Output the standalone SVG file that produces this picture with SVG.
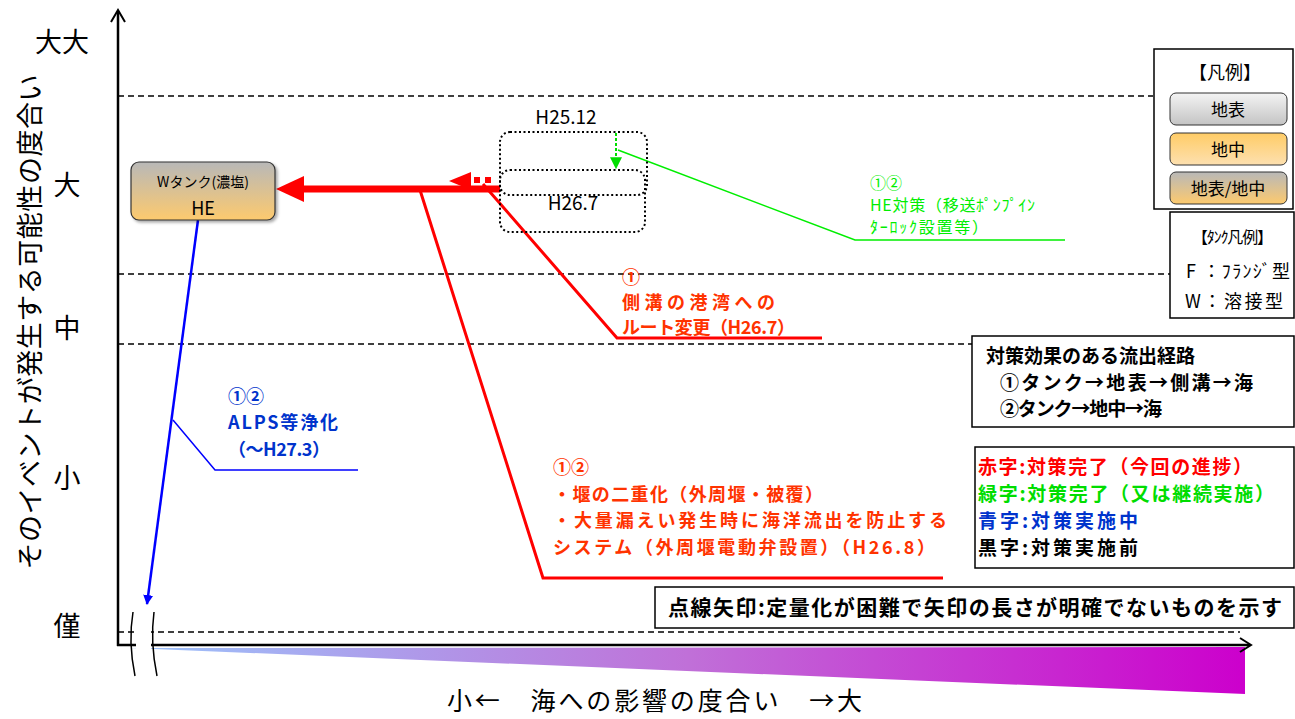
<svg xmlns="http://www.w3.org/2000/svg" width="1295" height="719" viewBox="0 0 1295 719">
<defs>
<style>
text{font-family:"Noto Sans CJK JP","Liberation Sans",sans-serif;}
.ax{font-size:27px;fill:#000;}
.dash{stroke:#000;stroke-width:1.3;stroke-dasharray:6 4;fill:none;}
.box{fill:#fff;stroke:#000;stroke-width:1.5;}
.b{font-weight:bold;}
.red{fill:#ff3300;}
.grn{fill:#00ee00;}
.blu{fill:#0033cc;}
</style>
<linearGradient id="gTank" x1="0" y1="0" x2="0" y2="1"><stop offset="0" stop-color="#b8b8b8"/><stop offset="1" stop-color="#fdca6e"/></linearGradient>
<linearGradient id="gGray" x1="0" y1="0" x2="0" y2="1"><stop offset="0" stop-color="#f4f4f4"/><stop offset="1" stop-color="#c4c4c4"/></linearGradient>
<linearGradient id="gOr" x1="0" y1="0" x2="0" y2="1"><stop offset="0" stop-color="#ffcc66"/><stop offset="1" stop-color="#fde0b0"/></linearGradient>
<linearGradient id="gSea" x1="0" y1="0" x2="1" y2="0"><stop offset="0" stop-color="#9cc4fb"/><stop offset="0.5" stop-color="#c070d8"/><stop offset="1" stop-color="#cc00cc"/></linearGradient>
<marker id="mB" viewBox="0 0 10 10" refX="9" refY="5" markerWidth="4" markerHeight="5" orient="auto" markerUnits="strokeWidth"><path d="M0,0L10,5L0,10z" fill="#0000ff"/></marker>
<marker id="mG" viewBox="0 0 10 10" refX="9" refY="5" markerWidth="6" markerHeight="6" orient="auto" markerUnits="strokeWidth"><path d="M0,0L10,5L0,10z" fill="#00dd00"/></marker>
<filter id="sh" x="-10%" y="-10%" width="130%" height="130%"><feDropShadow dx="2" dy="2" stdDeviation="1.5" flood-opacity="0.35"/></filter>
</defs>

<g id="axes">
<polygon points="130,648 1245,647 1245,694" fill="url(#gSea)"/>
<line x1="118" y1="12" x2="118" y2="646" stroke="#000" stroke-width="2.5"/>
<polyline points="111,22 118,10 125,22" fill="none" stroke="#000" stroke-width="2"/>
<line x1="117" y1="645" x2="1250" y2="645" stroke="#000" stroke-width="2.5"/>
<polyline points="1240,638 1251,645 1240,652" fill="none" stroke="#000" stroke-width="2"/>
<line class="dash" x1="118" y1="96" x2="1153" y2="96"/>
<line class="dash" x1="118" y1="274" x2="1170" y2="274"/>
<line class="dash" x1="118" y1="344" x2="972" y2="344"/>
<line class="dash" x1="118" y1="632" x2="1240" y2="632"/>
<rect x="136" y="610" width="15" height="68" fill="#fff"/>
<path d="M133,612 Q128,642 135,676 M154,612 Q150,642 157,676" fill="none" stroke="#000" stroke-width="1.5"/>
<text class="ax" x="62" y="52" text-anchor="middle">大大</text>
<text class="ax" x="67" y="195" text-anchor="middle">大</text>
<text class="ax" x="67" y="338" text-anchor="middle">中</text>
<text class="ax" x="67" y="488" text-anchor="middle">小</text>
<text class="ax" x="67" y="636" text-anchor="middle">僅</text>
<text x="0" y="0" font-size="27" text-anchor="middle" textLength="495" transform="translate(40,322) rotate(-90)">そのイベントが発生する可能性の度合い</text>
<text x="447" y="710" font-size="25" textLength="415">小←　海への影響の度合い　→大</text>
</g>

<g id="connectors">
<line x1="500" y1="189" x2="300" y2="189" stroke="#ff0000" stroke-width="7"/>
<polygon points="276,189 304,176 304,202" fill="#ff0000"/>
<polygon points="449,181 471,172 471,190" fill="#ff0000"/>
<rect x="474" y="177" width="6" height="6" fill="#ff0000"/>
<rect x="485" y="177" width="6" height="6" fill="#ff0000"/>
<polyline points="483,184 617,338 822,338" fill="none" stroke="#ff0000" stroke-width="3"/>
<polyline points="420,190 543,578 943,578" fill="none" stroke="#ff0000" stroke-width="3"/>
<line x1="198" y1="220" x2="147" y2="604" stroke="#0000ff" stroke-width="2.5" marker-end="url(#mB)"/>
<polyline points="173,420 215,470 358,470" fill="none" stroke="#0000ff" stroke-width="1.5"/>
<line x1="616" y1="133" x2="616" y2="168" stroke="#00dd00" stroke-width="2" stroke-dasharray="3 2" marker-end="url(#mG)"/>
<polyline points="618,150 855,240 1065,240" fill="none" stroke="#00ee00" stroke-width="1.5"/>
</g>

<g id="node-dotted">
<rect x="500" y="132" width="147" height="63" rx="10" fill="none" stroke="#000" stroke-width="2" stroke-dasharray="2 2.5"/>
<rect x="500" y="170" width="145" height="62" rx="10" fill="none" stroke="#000" stroke-width="2" stroke-dasharray="2 2.5"/>
<text x="566" y="124" font-size="19" text-anchor="middle" font-family="Liberation Sans, sans-serif">H25.12</text>
<text x="573" y="210" font-size="19" text-anchor="middle" font-family="Liberation Sans, sans-serif">H26.7</text>
</g>

<g id="node-wtank">
<rect x="131" y="162" width="144" height="58" rx="8" fill="url(#gTank)" stroke="#333" stroke-width="1.2" filter="url(#sh)"/>
<text x="203" y="187" font-size="14" text-anchor="middle">Wタンク(濃塩)</text>
<text x="203" y="215" font-size="18" text-anchor="middle">HE</text>
</g>

<g id="label-green">
<text class="grn" x="870" y="189" font-size="16">①②</text>
<text class="grn" x="870" y="211" font-size="16" textLength="165">HE対策（移送ﾎﾟﾝﾌﾟｲﾝ</text>
<text class="grn" x="870" y="233" font-size="16" textLength="118">ﾀｰﾛｯｸ設置等）</text>
</g>

<g id="label-red1" class="b">
<text class="red" x="622" y="284" font-size="18">①</text>
<text class="red" x="622" y="309" font-size="18" textLength="153">側溝の港湾への</text>
<text class="red" x="622" y="334" font-size="18" textLength="173">ルート変更（H26.7）</text>
</g>

<g id="label-red2" class="b">
<text class="red" x="553" y="474" font-size="18">①②</text>
<text class="red" x="553" y="501" font-size="18" textLength="270">・堰の二重化（外周堰・被覆）</text>
<text class="red" x="553" y="527" font-size="18" textLength="394">・大量漏えい発生時に海洋流出を防止する</text>
<text class="red" x="553" y="554" font-size="18" textLength="382">システム（外周堰電動弁設置）（H26.8）</text>
</g>

<g id="label-blue" class="b">
<text class="blu" x="228" y="403" font-size="18">①②</text>
<text class="blu" x="228" y="429" font-size="18" textLength="110">ALPS等浄化</text>
<text class="blu" x="228" y="456" font-size="18" textLength="102">（～H27.3）</text>
</g>

<g id="legend">
<rect class="box" x="1154" y="49" width="139" height="160"/>
<text x="1225" y="79" font-size="18" text-anchor="middle">【凡例】</text>
<rect x="1170" y="93" width="117" height="32" rx="6" fill="url(#gGray)" stroke="#333" stroke-width="1"/>
<text x="1228" y="116" font-size="17" text-anchor="middle">地表</text>
<rect x="1170" y="133" width="117" height="32" rx="6" fill="url(#gOr)" stroke="#333" stroke-width="1"/>
<text x="1228" y="156" font-size="17" text-anchor="middle">地中</text>
<rect x="1170" y="172" width="117" height="32" rx="6" fill="url(#gTank)" stroke="#333" stroke-width="1"/>
<text x="1228" y="195" font-size="17" text-anchor="middle">地表/地中</text>
</g>

<g id="tank-legend">
<rect class="box" x="1170" y="212" width="124" height="106"/>
<text x="1192" y="243" font-size="16" textLength="81">【ﾀﾝｸ凡例】</text>
<text x="1186" y="278" font-size="18" textLength="104">F ：ﾌﾗﾝｼﾞ型</text>
<text x="1185" y="308" font-size="18" textLength="98">W：溶接型</text>
</g>

<g id="route-box">
<rect class="box" x="972" y="336" width="322" height="91"/>
<text class="b" x="986" y="363" font-size="19" textLength="209">対策効果のある流出経路</text>
<text class="b" x="1000" y="390" font-size="19" textLength="253">①タンク→地表→側溝→海</text>
<text class="b" x="1000" y="416" font-size="19" textLength="162">②タンク→地中→海</text>
</g>

<g id="color-legend" class="b">
<rect class="box" x="975" y="447" width="319" height="121"/>
<text x="978" y="474" font-size="19" fill="#ff0000" textLength="274">赤字:対策完了（今回の進捗）</text>
<text x="978" y="501" font-size="19" fill="#00dd00" textLength="296">緑字:対策完了（又は継続実施）</text>
<text x="978" y="528" font-size="19" fill="#0033cc" textLength="160">青字:対策実施中</text>
<text x="978" y="555" font-size="19" fill="#000" textLength="160">黒字:対策実施前</text>
</g>

<g id="note-box">
<rect class="box" x="655" y="587" width="639" height="41"/>
<text class="b" x="668" y="615" font-size="21" textLength="614">点線矢印:定量化が困難で矢印の長さが明確でないものを示す</text>
</g>
</svg>
